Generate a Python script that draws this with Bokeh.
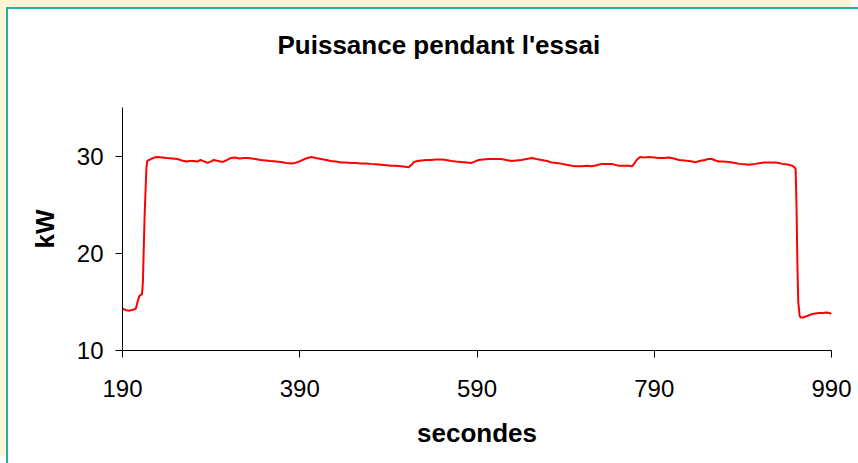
from bokeh.plotting import figure
from bokeh.models import FixedTicker, Range1d, Title
from bokeh.embed import file_html
from bokeh.resources import INLINE

# Data
secondes = [190, 194, 198, 202, 205, 207, 209, 212, 213, 215, 217, 218, 222, 226, 229, 235, 240, 246, 252, 257,
            262, 266, 270, 275, 278, 282, 286, 290, 293, 298, 303, 308, 312, 317, 322, 327, 331, 336, 340, 346,
            352, 357, 363, 369, 375, 380, 385, 391, 397, 403, 408, 414, 420, 425, 431, 437, 443, 448, 454, 459,
            465, 470, 476, 482, 488, 493, 499, 504, 509, 513, 516, 519, 523, 527, 533, 538, 544, 550, 555, 561,
            566, 572, 578, 584, 588, 592, 597, 603, 610, 617, 623, 629, 634, 640, 646, 652, 657, 663, 669, 674,
            680, 686, 691, 697, 702, 708, 714, 719, 725, 731, 737, 742, 746, 750, 756, 761, 765, 768, 770, 774,
            779, 784, 790, 795, 801, 807, 812, 818, 824, 829, 833, 836, 841, 847, 851, 855, 859, 863, 868, 874,
            878, 881, 886, 892, 897, 904, 910, 915, 921, 926, 931, 934, 938, 942, 946, 948, 949.5, 950.5, 951.5, 952.5,
            954, 955, 958, 961, 964, 968, 972, 976, 980, 984, 988, 990]
kw = [14.3, 14.15, 14.1, 14.2, 14.3, 15.0, 15.6, 15.8, 17.0, 24.0, 28.8, 29.5, 29.7, 29.85, 29.9, 29.85, 29.8, 29.75, 29.7, 29.55,
      29.45, 29.5, 29.5, 29.45, 29.6, 29.45, 29.3, 29.45, 29.6, 29.5, 29.4, 29.6, 29.8, 29.85, 29.75, 29.8, 29.8, 29.75, 29.7, 29.6,
      29.55, 29.5, 29.45, 29.4, 29.3, 29.25, 29.3, 29.5, 29.75, 29.9, 29.8, 29.7, 29.6, 29.5, 29.45, 29.35, 29.35, 29.3, 29.3, 29.25,
      29.25, 29.2, 29.15, 29.1, 29.05, 29.0, 29.0, 28.95, 28.9, 28.85, 29.1, 29.4, 29.5, 29.55, 29.6, 29.6, 29.65, 29.65, 29.6, 29.5,
      29.45, 29.4, 29.35, 29.3, 29.45, 29.6, 29.65, 29.7, 29.7, 29.7, 29.6, 29.5, 29.55, 29.6, 29.7, 29.8, 29.7, 29.6, 29.5, 29.35,
      29.3, 29.2, 29.1, 29.0, 28.95, 28.95, 29.0, 28.95, 29.05, 29.2, 29.2, 29.2, 29.1, 29.0, 29.0, 29.0, 28.95, 29.3, 29.6, 29.9,
      29.85, 29.9, 29.85, 29.8, 29.8, 29.85, 29.75, 29.6, 29.55, 29.5, 29.45, 29.35, 29.5, 29.6, 29.7, 29.7, 29.55, 29.45, 29.45, 29.4,
      29.35, 29.3, 29.2, 29.15, 29.1, 29.2, 29.3, 29.35, 29.35, 29.35, 29.3, 29.2, 29.15, 29.1, 29.0, 28.85, 28.7, 25.0, 19.0, 15.0,
      13.6, 13.4, 13.4, 13.5, 13.6, 13.75, 13.8, 13.85, 13.85, 13.9, 13.85, 13.75]

x_ticks = [190, 390, 590, 790, 990]
y_ticks = [10, 20, 30]

TEAL = "#25ADA3"
CREAM = "#FFF5D6"
FONT = "Liberation Sans"

p = figure(width=852, height=456, output_backend="svg", toolbar_location=None,
           x_range=Range1d(190, 990), y_range=Range1d(10, 35),
           min_border_left=114, min_border_right=29, min_border_top=98, min_border_bottom=115,
           title="Puissance pendant l'essai")
p.styles = {"margin-left": "6px", "margin-top": "7px",
            "border-top": f"2px solid {TEAL}", "border-left": f"2px solid {TEAL}",
            "box-shadow": f"-7px -7px 0 0 {CREAM}"}

# empty spacer between the title and the plot frame
p.add_layout(Title(text=" ", text_font_size="41px", standoff=0), "above")

p.line(secondes, kw, line_color="#FF0000", line_width=2)

p.title.text_font = FONT
p.title.text_font_size = "26px"
p.title.text_font_style = "bold"
p.title.text_color = "black"
p.title.align = "left"
p.title.offset = 155
p.title.standoff = 0

p.outline_line_color = None
p.xgrid.visible = False
p.ygrid.visible = False
p.background_fill_color = "white"
p.border_fill_color = "white"

for ax in (p.xaxis[0], p.yaxis[0]):
    ax.axis_line_color = "black"
    ax.axis_line_width = 1
    ax.major_tick_line_color = "black"
    ax.major_tick_in = 0
    ax.major_tick_out = 7
    ax.minor_tick_line_color = None
    ax.major_label_text_font = FONT
    ax.major_label_text_font_size = "24px"
    ax.major_label_text_color = "black"
    ax.axis_label_text_font = FONT
    ax.axis_label_text_font_size = "26px"
    ax.axis_label_text_font_style = "bold"
    ax.axis_label_text_color = "black"

p.xaxis[0].ticker = FixedTicker(ticks=x_ticks)
p.yaxis[0].ticker = FixedTicker(ticks=y_ticks)
p.xaxis[0].axis_label = "secondes"
p.yaxis[0].axis_label = "kW"
p.xaxis[0].major_label_standoff = 22
p.yaxis[0].major_label_standoff = 12
p.xaxis[0].axis_label_standoff = 18
p.yaxis[0].axis_label_standoff = 14

open("out.html", "w").write(file_html(p, INLINE))
